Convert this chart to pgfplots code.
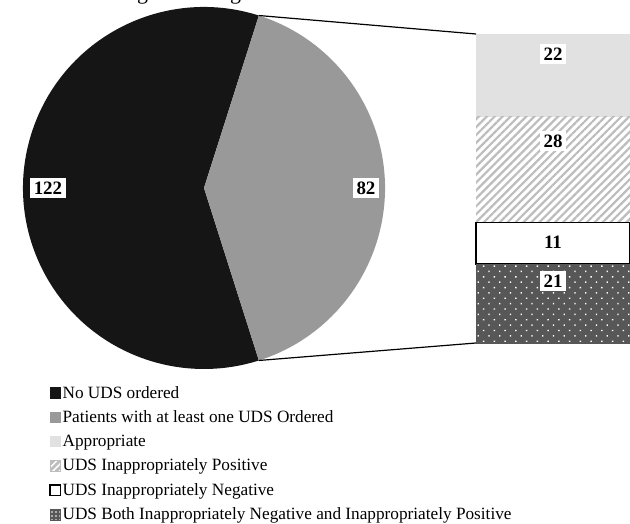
\documentclass[border=0pt]{standalone}
\usepackage{fontspec}
\setmainfont{Liberation Serif}
\usepackage{pgfplots}
\pgfplotsset{compat=1.18}
\usetikzlibrary{patterns.meta}

\definecolor{cBlack}{HTML}{151515}
\definecolor{cGray}{HTML}{999999}
\definecolor{cLight}{HTML}{E1E1E1}
\definecolor{cHatch}{HTML}{BDBDBD}
\definecolor{cDot}{HTML}{575757}

\tikzset{vlab/.style={fill=white, font=\bfseries\fontsize{19}{22}\selectfont, inner xsep=4bp, inner ysep=4bp}}

\begin{document}
\begin{tikzpicture}
% pie data: No UDS ordered = 122, at least one UDS = 82
\pgfmathsetmacro{\ang}{82/(122+82)*180}

\begin{axis}[at={(23bp,155bp)}, anchor=south west, width=362bp, height=362bp,
  scale only axis, hide axis, xmin=-1, xmax=1, ymin=-1, ymax=1, clip=false,
  legend style={at={(0.0635,-0.037)}, anchor=north west, draw=none, fill=none,
    font=\fontsize{17.3}{19}\selectfont, row sep=8bp,
    cells={anchor=west}, nodes={inner sep=1.5bp}},
  legend cell align=left,
  legend image code/.code={\draw[#1] (0bp,-5.2bp) rectangle (10.4bp,5.2bp);}]
\fill[cBlack] (axis cs:0,0) -- (axis cs:{cos(\ang)},{sin(\ang)}) arc[start angle=\ang, end angle=360-\ang, radius=181bp] -- cycle;
\fill[cGray] (axis cs:0,0) -- (axis cs:{cos(\ang)},{-sin(\ang)}) arc[start angle=-\ang, end angle=\ang, radius=181bp] -- cycle;
\coordinate (pT) at (axis cs:{cos(\ang)},{sin(\ang)});
\coordinate (pB) at (axis cs:{cos(\ang)},{-sin(\ang)});
\node[vlab] at (axis cs:-0.862,0) {122};
\node[vlab] at (axis cs:0.895,0) {82};
\addlegendimage{fill=cBlack, draw=cBlack}
\addlegendentry{No UDS ordered}
\addlegendimage{fill=cGray, draw=cGray}
\addlegendentry{Patients with at least one UDS Ordered}
\addlegendimage{fill=cLight, draw=cLight}
\addlegendentry{Appropriate}
\addlegendimage{fill=cHatch, draw=cHatch, postaction={pattern={Lines[angle=45, distance=4.5bp, line width=1.5bp]}, pattern color=white}}
\addlegendentry{UDS Inappropriately Positive}
\addlegendimage{fill=white, draw=black, line width=1.3bp}
\addlegendentry{UDS Inappropriately Negative}
\addlegendimage{fill=cDot, draw=cDot, postaction={pattern={Dots[distance=4bp, radius=0.8bp]}, pattern color=white}}
\addlegendentry{UDS Both Inappropriately Negative and Inappropriately Positive}
\end{axis}

\begin{axis}[at={(476bp,181bp)}, anchor=south west, width=154bp, height=309bp,
  scale only axis, hide axis, xmin=0, xmax=1, ymin=0, ymax=82, clip=false,
  ybar stacked, bar width=154bp]
\addplot[fill=cDot, draw=cDot, postaction={pattern={Dots[distance=7.6bp, angle=45, radius=1bp]}, pattern color=white}] coordinates {(0.5,21)};
\addplot[fill=white, draw=black, line width=1.3bp] coordinates {(0.5,11)};
\addplot[fill=white, draw=none, postaction={pattern={Lines[angle=45, distance=5.6bp, line width=2.2bp]}, pattern color=cHatch}] coordinates {(0.5,28)};
\addplot[fill=cLight, draw=none] coordinates {(0.5,22)};
\coordinate (bT) at (axis cs:0,82);
\coordinate (bB) at (axis cs:0,0);
\coordinate (l22) at (axis cs:0.5,76.7);
\coordinate (l28) at (axis cs:0.5,53.6);
\coordinate (l11) at (axis cs:0.5,26.8);
\coordinate (l21) at (axis cs:0.5,16.5);
\end{axis}

\node[vlab] at (l22) {22};
\node[vlab] at (l28) {28};
\node[vlab] at (l11) {11};
\node[vlab] at (l21) {21};
\draw[line width=1.2bp] (pT) -- (bT);
\draw[line width=1.2bp] (pB) -- (bB);
\node[anchor=base, font=\fontsize{22}{26}\selectfont, inner sep=0pt] at (302bp,524.5bp) {Urine Drug Screening of Patients in Palliative Care Clinic};
\pgfresetboundingbox
\useasboundingbox (0bp,0bp) rectangle (630bp,524bp);
\end{tikzpicture}
\end{document}
